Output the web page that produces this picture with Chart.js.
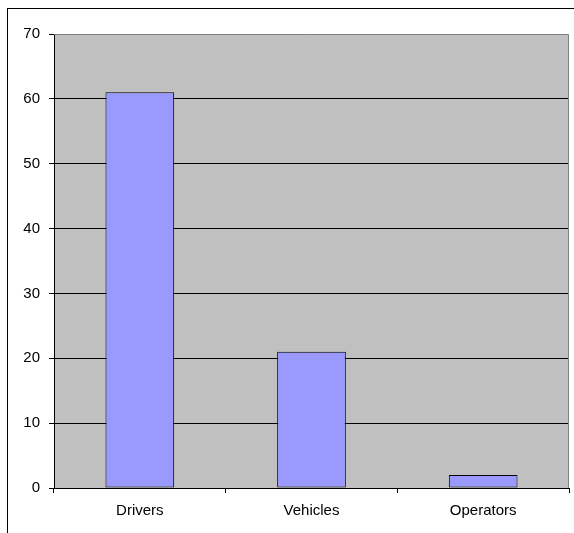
<!DOCTYPE html>
<html>
<head>
<meta charset="utf-8">
<script src="https://cdn.jsdelivr.net/npm/chart.js@4/dist/chart.umd.min.js"></script>
<style>
  html, body { margin: 0; background: #fff; }
  #wrap { position: relative; width: 574px; height: 533px; }
</style>
</head>
<body>
<div id="wrap"><canvas id="chart" width="574" height="533"></canvas></div>
<script>
// Counts per category
const categories = ['Drivers', 'Vehicles', 'Operators'];
const counts = [61, 21, 2];
const yMax = 70;
const yStep = 10;

const font = { family: '"Liberation Sans", Arial, sans-serif', size: 15 };

// Grey plot area, its grey top/right edge and the outer frame
const plotFrame = {
  id: 'plotFrame',
  beforeDraw(chart) {
    const { ctx, chartArea: a } = chart;
    ctx.save();
    ctx.fillStyle = '#c0c0c0';
    ctx.fillRect(a.left, a.top, a.right - a.left, a.bottom - a.top);
    ctx.strokeStyle = '#000';
    ctx.lineWidth = 1;
    ctx.strokeRect(7.5, 8.5, 580, 540);
    ctx.restore();
  },
  afterDraw(chart) {
    const { ctx, chartArea: a } = chart;
    ctx.save();
    ctx.strokeStyle = '#808080';
    ctx.lineWidth = 1;
    ctx.beginPath();
    ctx.moveTo(a.left, a.top + 0.5);
    ctx.lineTo(a.right - 0.5, a.top + 0.5);
    ctx.lineTo(a.right - 0.5, a.bottom);
    ctx.stroke();
    ctx.restore();
  }
};

new Chart(document.getElementById('chart'), {
  type: 'bar',
  data: {
    labels: categories,
    datasets: [{
      data: counts,
      backgroundColor: '#9999ff',
      borderColor: '#000',
      borderWidth: 1,
      borderSkipped: false,
      barPercentage: 0.4,
      categoryPercentage: 1
    }]
  },
  options: {
    responsive: false,
    animation: false,
    layout: { padding: { top: 34, right: 5, left: 0, bottom: 0 } },
    plugins: { legend: { display: false }, tooltip: { enabled: false } },
    scales: {
      x: {
        offset: true,
        grid: { offset: true, drawOnChartArea: false, color: '#000', tickLength: 5 },
        border: { color: '#000' },
        ticks: { color: '#000', font, padding: 9, maxRotation: 0 },
        afterFit(scale) { scale.height = 45; }
      },
      y: {
        min: 0,
        max: yMax,
        grid: {
          color: c => (c.tick && c.tick.value === yMax ? 'rgba(0,0,0,0)' : '#000'),
          tickColor: '#000',
          tickLength: 5
        },
        border: { color: '#000' },
        ticks: { stepSize: yStep, color: '#000', font, padding: 9 },
        afterFit(scale) { scale.width = 54; }
      }
    }
  },
  plugins: [plotFrame]
});
</script>
</body>
</html>
